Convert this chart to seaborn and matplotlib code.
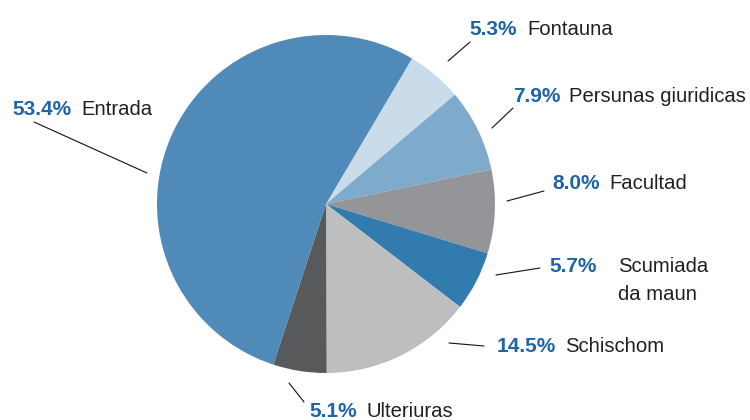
import matplotlib
matplotlib.use("Agg")
import matplotlib.pyplot as plt
import seaborn as sns

# slices, clockwise starting after the Entrada wedge
names = ["Fontauna", "Persunas giuridicas", "Facultad", "Scumiada\nda maun",
         "Schischom", "Ulteriuras", "Entrada"]
shares = [5.3, 7.9, 8.0, 5.7, 14.5, 5.1, 53.4]
pct_labels = ["5.3%", "7.9%", "8.0%", "5.7%", "14.5%", "5.1%", "53.4%"]
colors = ["#cadcea", "#7eaacb", "#939598", "#327baf", "#bdbec0", "#58595b", "#4f8ab8"]

# label layout in pixels (top-left origin): pct x, name x, baseline y
pct_x = [469, 513, 552, 549, 497, 309, 12]
name_x = [527, 569, 609, 618, 565, 367, 81]
base_y = [35, 102, 189, 272, 352, 417, 115]
# leader lines: (x0, y0, x1, y1) in pixels
leaders = [(448, 61, 470, 42), (492, 128, 513, 108), (507, 201, 544, 191),
           (496, 275, 540, 268), (449, 343, 484, 346), (289, 383, 304, 402),
           (147, 173, 34, 122)]

W, H = 750, 420
sns.set_theme(style="white")
plt.rcParams["font.family"] = ["Liberation Sans", "DejaVu Sans"]

fig = plt.figure(figsize=(7.5, 4.2), dpi=100)
ax = fig.add_axes([0, 0, 1, 1])

ax.pie(shares, colors=colors, startangle=59.4, counterclock=False,
       center=(326, H - 204), radius=169, wedgeprops=dict(linewidth=0))

blue = "#1e65a7"
dark = "#231f20"
for i, nm in enumerate(names):
    y = H - base_y[i]
    ax.text(pct_x[i], y, pct_labels[i], color=blue, fontsize=15, fontweight="bold",
            ha="left", va="baseline")
    if "\n" in nm:
        first, second = nm.split("\n")
        ax.text(name_x[i], y, first, color=dark, fontsize=14.6, ha="left", va="baseline")
        ax.text(name_x[i], y - 28, second, color=dark, fontsize=14.6, ha="left", va="baseline")
    else:
        ax.text(name_x[i], y, nm, color=dark, fontsize=14.6, ha="left", va="baseline")
    x0, y0, x1, y1 = leaders[i]
    ax.plot([x0, x1], [H - y0, H - y1], color="#111111", lw=0.8)

ax.set_xlim(0, W)
ax.set_ylim(0, H)
ax.set_aspect("equal")
ax.axis("off")

fig.savefig("out.png", dpi=100, facecolor="white")
